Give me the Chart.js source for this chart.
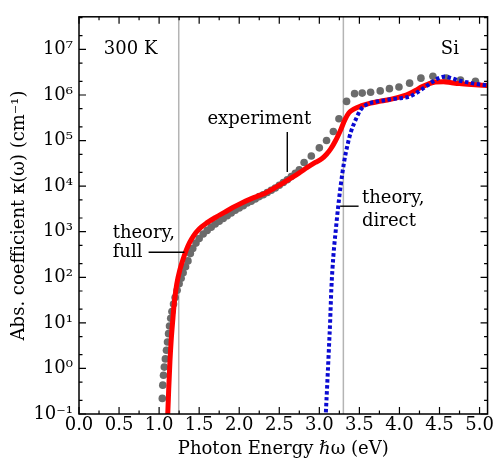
<!DOCTYPE html>
<html><head><meta charset="utf-8">
<script src="https://cdn.jsdelivr.net/npm/chart.js@4"></script>
<style>html,body{margin:0;padding:0;background:#fff}#wrap{width:495px;height:460px}</style>
</head><body><div id="wrap"><canvas id="c" width="495" height="460"></canvas></div>
<script>
// Experiment (gray circles): photon energy (eV) and absorption coefficient (cm^-1)
const expEnergy = [1.040,1.046,1.055,1.065,1.078,1.092,1.105,1.118,1.130,1.145,1.160,1.180,1.200,1.225,1.250,1.275,1.300,1.330,1.360,1.390,1.420,1.460,1.500,1.550,1.600,1.650,1.700,1.750,1.800,1.850,1.900,1.950,2.000,2.050,2.100,2.150,2.200,2.250,2.300,2.350,2.400,2.450,2.500,2.550,2.600,2.650,2.700,2.750,2.810,2.900,3.000,3.090,3.175,3.245,3.340,3.440,3.535,3.640,3.760,3.875,3.994,4.127,4.268,4.418,4.585,4.762,4.949];
const expAbs    = [0.22,0.43,0.71,1.07,1.62,2.5,3.8,5.8,8.5,12.6,17.8,26,36,52,72,95,126,170,229,331,427,562,708,891,1070,1260,1480,1700,1950,2240,2570,2950,3310,3720,4270,4680,5250,5890,6460,7240,8130,9120,10500,12000,13800,16200,19100,22900,33100,45700,69200,100000,158000,302000,724000,1.07e6,1.10e6,1.15e6,1.23e6,1.38e6,1.50e6,1.82e6,2.34e6,2.57e6,2.34e6,2.14e6,2.0e6];

// Theory, full (red)
const fullEnergy = [1.090,1.108,1.120,1.135,1.150,1.170,1.190,1.220,1.260,1.300,1.340,1.380,1.430,1.500,1.600,1.710,1.820,1.920,2.020,2.130,2.230,2.330,2.440,2.540,2.650,2.750,2.850,2.950,3.030,3.090,3.140,3.200,3.270,3.320,3.370,3.430,3.520,3.640,3.750,3.850,3.950,4.050,4.120,4.200,4.280,4.360,4.450,4.550,4.650,4.750,4.900,5.100];
const fullAbs    = [0.025,0.1,0.355,1.41,3.98,11.2,28.2,70.8,148,251,398,575,813,1150,1580,2090,2690,3390,4170,5130,6030,7080,9120,11500,15100,19500,25700,33100,39800,50100,64600,97700,178000,288000,407000,490000,575000,661000,724000,776000,851000,955000,1.07e6,1.26e6,1.51e6,1.74e6,1.93e6,1.95e6,1.86e6,1.78e6,1.70e6,1.62e6];

// Theory, direct (blue dotted)
const directEnergy = [3.070,3.081,3.100,3.120,3.135,3.150,3.175,3.205,3.234,3.268,3.309,3.350,3.392,3.454,3.517,3.600,3.700,3.800,3.910,4.000,4.118,4.190,4.264,4.340,4.408,4.490,4.567,4.650,4.741,4.900,5.100];
const directAbs    = [0.032,0.1,0.5,2.82,10.7,55,288,1070,3390,10700,33900,77600,151000,288000,479000,631000,708000,759000,813000,851000,912000,1.05e6,1.28e6,1.58e6,1.93e6,2.34e6,2.54e6,2.34e6,2.09e6,1.82e6,1.62e6];

// Band-gap guide lines (eV)
const gapLines = [1.245, 3.30];

// Axis ticks
const xTicks = [0.0,0.5,1.0,1.5,2.0,2.5,3.0,3.5,4.0,4.5,5.0];
const yTicks = [1e-1,1e0,1e1,1e2,1e3,1e4,1e5,1e6,1e7];
const yExponents = ['⁻¹','⁰','¹','²','³','⁴','⁵','⁶','⁷'];

const pts = (xs, ys) => xs.map((x, i) => ({x: x, y: ys[i]}));

const FONT = "'DejaVu Serif', 'Liberation Serif', serif";
Chart.defaults.font.family = FONT;
Chart.defaults.font.size = 18;
Chart.defaults.color = '#000';

const notes = [
  {text: '300 K', x: 0.31, y: 1e7},
  {text: 'Si', x: 4.517, y: 1e7},
  {text: 'experiment', x: 1.603, y: 2.95e5},
  {text: 'theory,', x: 0.42, y: 912},
  {text: 'full', x: 0.42, y: 355},
  {text: 'theory,', x: 3.533, y: 5370},
  {text: 'direct', x: 3.533, y: 1650}
];
const leaders = [
  {x1: 2.6, y1: 1.55e5, x2: 2.6, y2: 2.04e4},
  {x1: 0.869, y1: 355, x2: 1.316, y2: 355},
  {x1: 3.26, y1: 3630, x2: 3.49, y2: 3630}
];

const framePlugin = {
  id: 'frameTicks',
  afterDatasetsDraw(chart) {
    const {ctx, chartArea: a, scales: {x, y}} = chart;
    ctx.save();
    // annotations
    ctx.fillStyle = '#000';
    ctx.font = '18px ' + FONT;
    ctx.textBaseline = 'middle';
    ctx.textAlign = 'left';
    notes.forEach(n => ctx.fillText(n.text, x.getPixelForValue(n.x), y.getPixelForValue(n.y)));
    ctx.strokeStyle = '#000';
    ctx.lineWidth = 1.4;
    leaders.forEach(l => {
      ctx.beginPath();
      ctx.moveTo(x.getPixelForValue(l.x1), y.getPixelForValue(l.y1));
      ctx.lineTo(x.getPixelForValue(l.x2), y.getPixelForValue(l.y2));
      ctx.stroke();
    });
    // ticks
    ctx.lineWidth = 1.2;
    const major = 7, minor = 3.5;
    ctx.beginPath();
    for (let v = 0; v <= 5.1001; v += 0.25) {
      const px = x.getPixelForValue(v);
      const isMajor = Math.abs(v / 0.5 - Math.round(v / 0.5)) < 1e-6;
      const len = isMajor ? major : minor;
      ctx.moveTo(px, a.bottom); ctx.lineTo(px, a.bottom - len);
      ctx.moveTo(px, a.top); ctx.lineTo(px, a.top + len);
    }
    for (let e = -1; e <= 7; e++) {
      [1, 2, 5].forEach(m => {
        const v = m * Math.pow(10, e);
        if (v < y.min || v > y.max) return;
        const py = y.getPixelForValue(v);
        const len = m === 1 ? major : minor;
        ctx.moveTo(a.left, py); ctx.lineTo(a.left + len, py);
        ctx.moveTo(a.right, py); ctx.lineTo(a.right - len, py);
      });
    }
    ctx.stroke();
    // frame
    ctx.lineWidth = 1.5;
    ctx.strokeRect(a.left, a.top, a.right - a.left, a.bottom - a.top);
    ctx.restore();
  }
};

const vline = (e) => ({
  type: 'line',
  data: [{x: e, y: 0.1}, {x: e, y: 5.2e7}],
  borderColor: '#b4b4b4', borderWidth: 1.5, pointRadius: 0, clip: 0
});

new Chart(document.getElementById('c'), {
  type: 'scatter',
  data: {
    datasets: [
      {type: 'line', label: 'theory, direct', data: pts(directEnergy, directAbs),
       borderColor: '#0a0ad2', borderWidth: 4, borderDash: [3.5, 2.5], borderCapStyle: 'butt',
       pointRadius: 0, tension: 0.3, cubicInterpolationMode: 'monotone', clip: 0},
      {type: 'line', label: 'theory, full', data: pts(fullEnergy, fullAbs),
       borderColor: '#ff0000', borderWidth: 5, pointRadius: 0, tension: 0.3,
       cubicInterpolationMode: 'monotone', clip: 0},
      {label: 'experiment', data: pts(expEnergy, expAbs), showLine: false,
       pointRadius: 3.8, pointBackgroundColor: '#6b6b6b', pointBorderWidth: 0, borderColor: '#6b6b6b', clip: 0},
      vline(gapLines[0]),
      vline(gapLines[1])
    ]
  },
  options: {
    responsive: false,
    animation: false,
    events: [],
    layout: {padding: {left: 0, right: 7, top: 8, bottom: 0}},
    plugins: {legend: {display: false}, tooltip: {enabled: false}},
    scales: {
      x: {
        type: 'linear', min: 0, max: 5.1,
        grid: {display: false, drawTicks: false},
        border: {display: false},
        afterBuildTicks: s => { s.ticks = xTicks.map(v => ({value: v})); },
        afterFit: s => { s.height = 46; },
        ticks: {padding: 1, maxRotation: 0, autoSkip: false,
                callback: v => Number(v).toFixed(1), font: {size: 18, family: FONT}},
        title: {display: true, text: 'Photon Energy ℏω (eV)', padding: {top: 0, bottom: 0},
                font: {size: 18, family: FONT}}
      },
      y: {
        type: 'logarithmic', min: 0.1, max: 5.2e7,
        grid: {display: false, drawTicks: false},
        border: {display: false},
        afterBuildTicks: s => { s.ticks = yTicks.map(v => ({value: v})); },
        afterFit: s => { s.width = 79; },
        ticks: {padding: 6, autoSkip: false,
                callback: (v) => { const i = yTicks.findIndex(t => Math.abs(t - v) / t < 1e-6); return i >= 0 ? '10' + yExponents[i] : ''; },
                font: {size: 18, family: FONT}},
        title: {display: true, text: 'Abs. coefficient κ(ω) (cm⁻¹)', padding: {top: 9, bottom: 0},
                font: {size: 18, family: FONT}}
      }
    }
  },
  plugins: [framePlugin]
});
</script>
</body></html>
